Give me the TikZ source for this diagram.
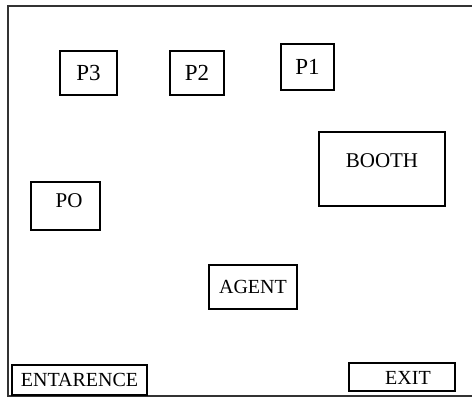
\documentclass[tikz,border=0pt]{standalone}
\usepackage{fontspec}
\setmainfont{Liberation Serif}
\begin{document}
\begin{tikzpicture}[x=1pt,y=-1pt,
  room/.style={draw=black,line width=2.8pt,rectangle,inner sep=0pt,font=\fontsize{20}{20}\selectfont},
  bigtxt/.style={font=\fontsize{23}{23}\selectfont},
  midtxt/.style={font=\fontsize{21}{21}\selectfont}]
\useasboundingbox (0,0) rectangle (472,398);
% outer frame (open on the right)
\draw[line width=2pt,black!80] (472,6) -- (8,6) -- (8,396) -- (472,396);
% boxes
\node[room,bigtxt,minimum width=57pt,minimum height=44pt] (p3) at (88.5,73) {P3};
\node[room,bigtxt,minimum width=54pt,minimum height=44pt] (p2) at (197,73) {P2};
\node[room,bigtxt,minimum width=53pt,minimum height=46pt] (p1) at (307.5,67) {P1};
\node[room,minimum width=126pt,minimum height=74pt,
  label={[anchor=north,yshift=-19pt,midtxt]north:BOOTH}] (booth) at (382,169) {};
\node[room,minimum width=69pt,minimum height=48pt] (po) at (65.5,206) {};
\node[midtxt] (potxt) at (69,201) {PO};
\node[room,minimum width=88pt,minimum height=44pt] (agent) at (253,287) {AGENT};
\node[room,minimum width=135pt,minimum height=30pt] (entr) at (79.5,380) {ENTARENCE};
\node[room,minimum width=106pt,minimum height=28pt] (exit) at (402,377) {};
\node[font=\fontsize{20}{20}\selectfont] (exittxt) at (408,378) {EXIT};
\end{tikzpicture}
\end{document}
